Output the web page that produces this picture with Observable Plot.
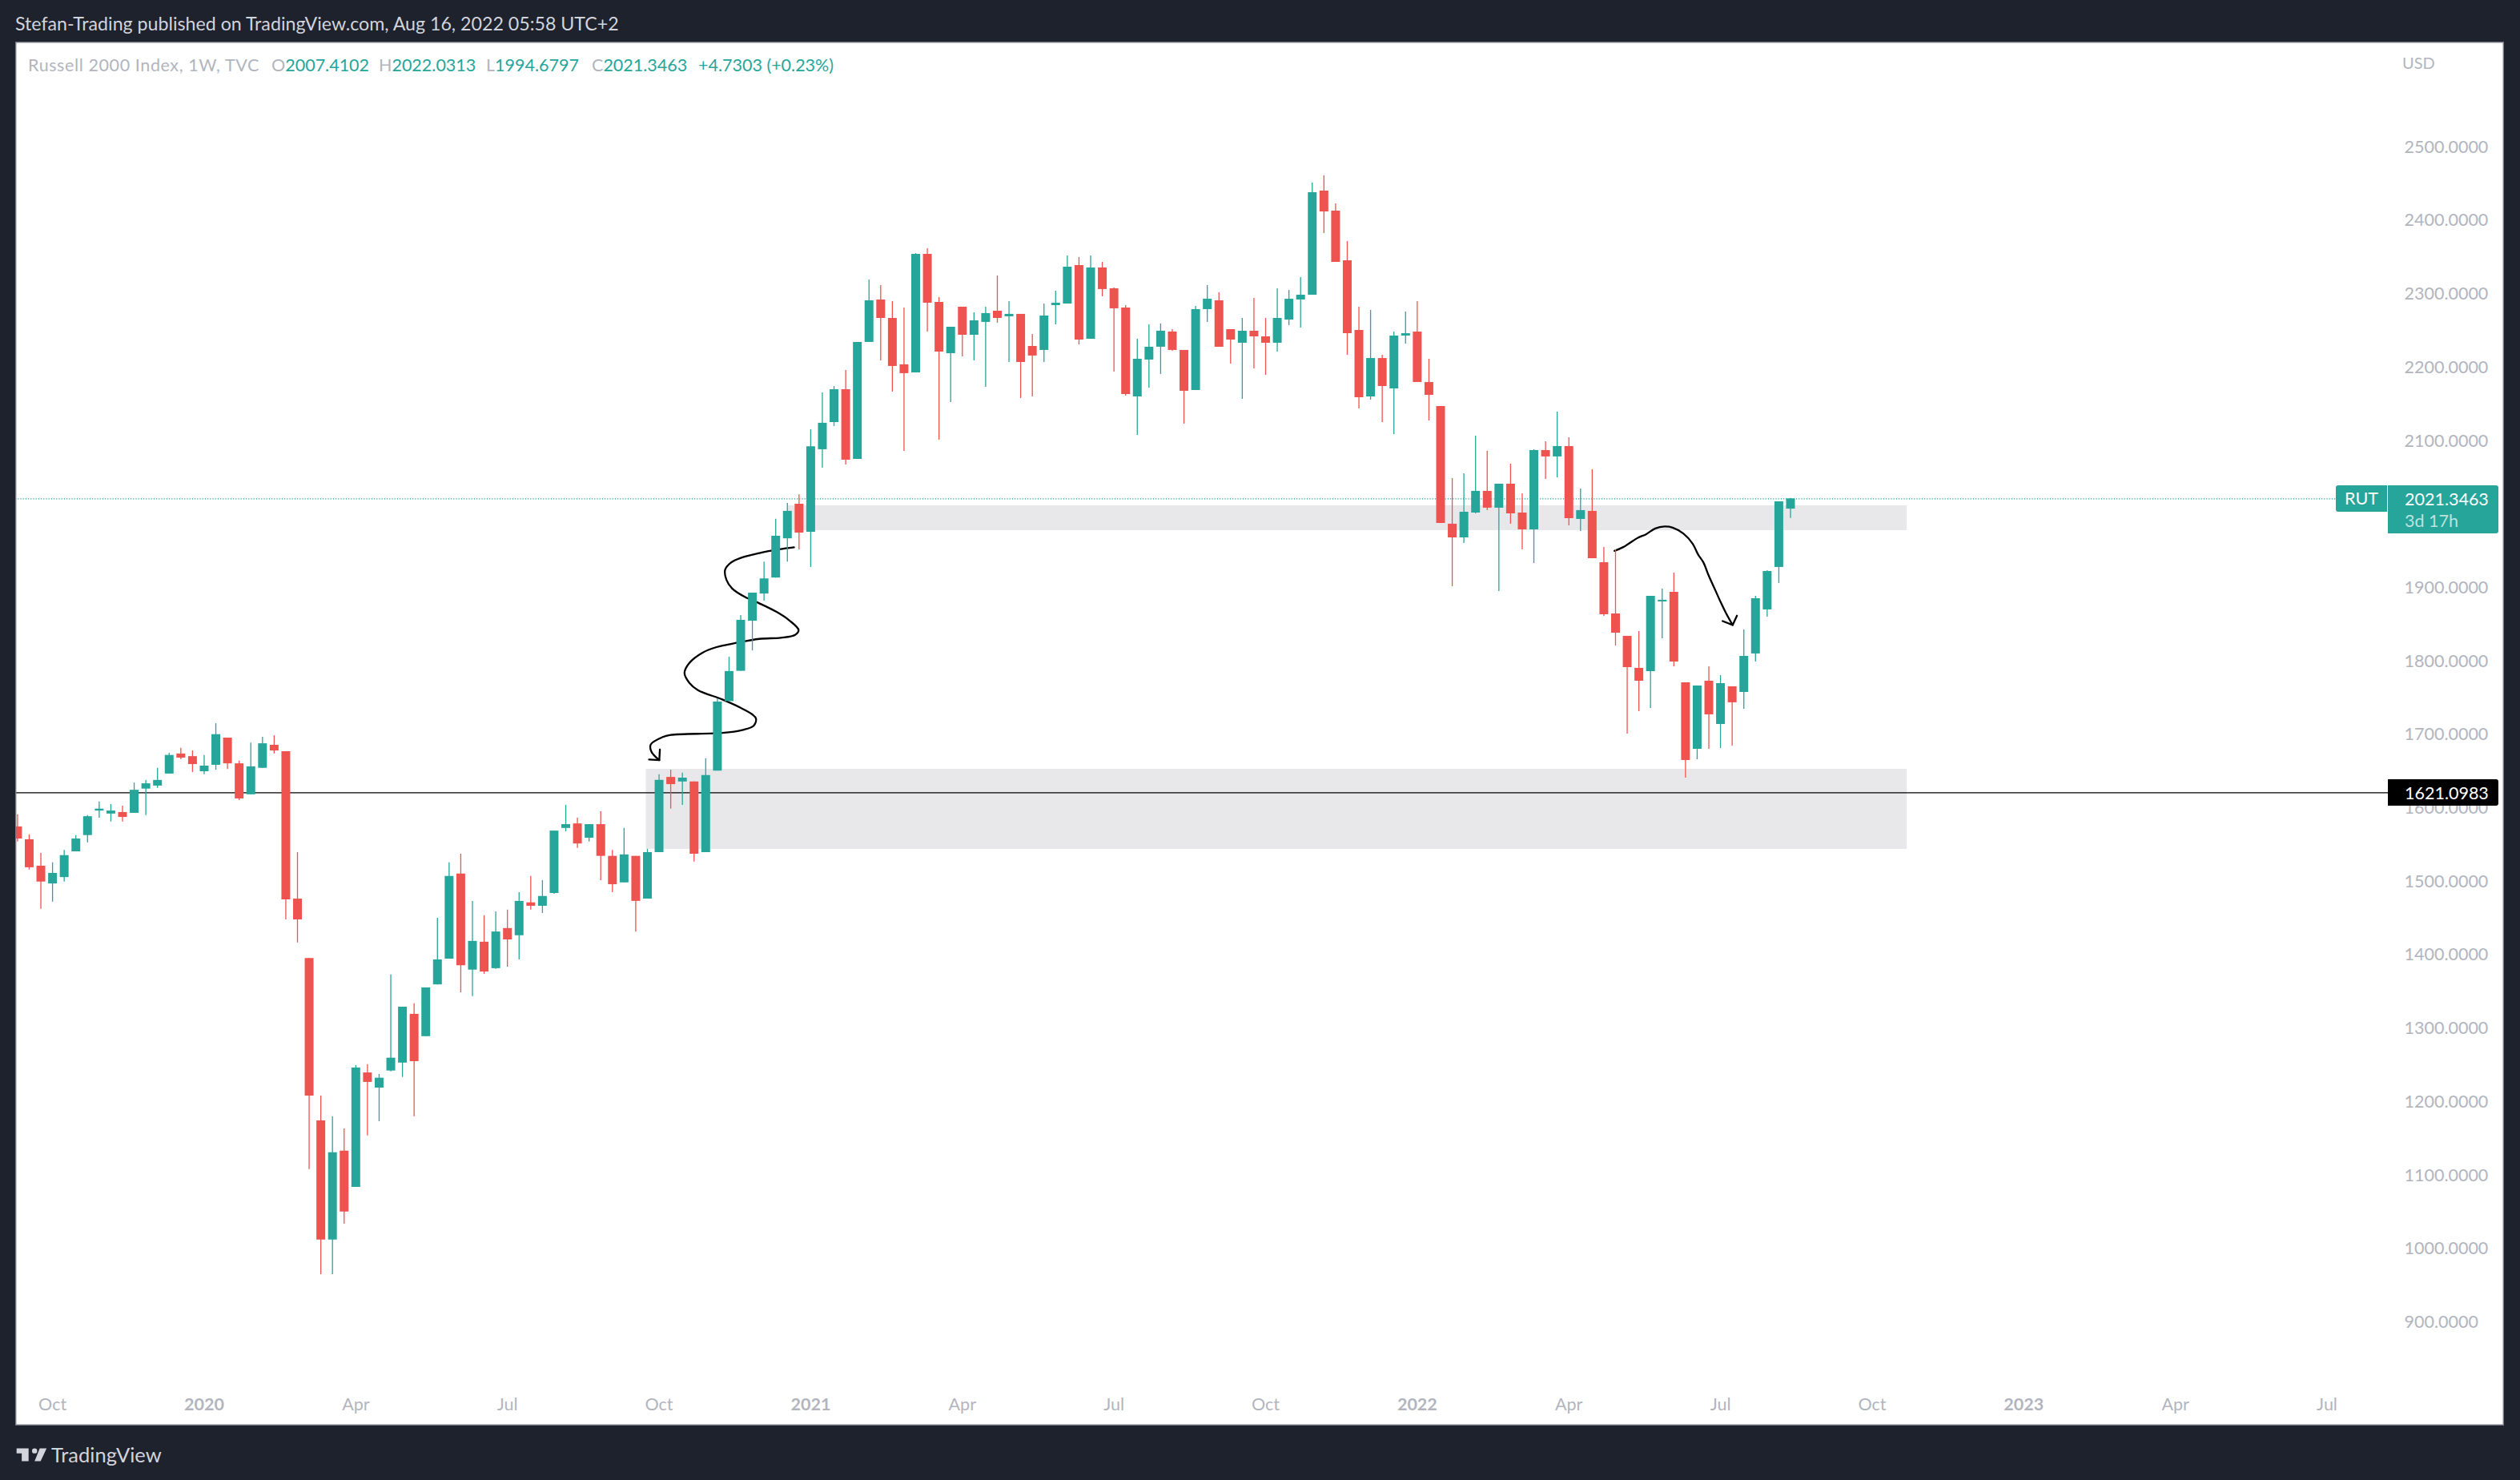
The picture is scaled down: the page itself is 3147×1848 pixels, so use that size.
<!DOCTYPE html>
<html>
<head>
<meta charset="utf-8">
<script src="https://cdn.jsdelivr.net/npm/d3@7"></script>
<script src="https://cdn.jsdelivr.net/npm/@observablehq/plot@0.6"></script>
<style>
html,body{margin:0;padding:0;background:#1e222d;width:3147px;height:1848px;overflow:hidden;font-family:Lato,sans-serif}
.abs{position:absolute;white-space:nowrap}
#head{left:19px;top:16px;font-size:23.2px;line-height:26px;color:#d1d4dc}
#chart{left:19px;top:52px;width:3108px;height:1728px;background:#fff}
#chart svg{display:block}
#frame{left:19px;top:52px;width:3108px;height:1728px;box-shadow:inset 0 0 0 1.4px #787b86;pointer-events:none}
#legend{left:35px;top:68px;font-size:21.5px;line-height:26px;color:#b2b5be;display:flex}
#legend b{font-weight:400;color:#26a69a}
#legend span{position:absolute;top:0}
#usd{left:3000px;top:65px;font-size:20px;line-height:26px;color:#b2b5be}
.box{font-size:21.5px;line-height:22px;font-variant-numeric:tabular-nums}
#foot{left:64px;top:1801px;font-size:25.5px;line-height:30px;color:#d1d4dc}
</style>
</head>
<body>
<div id="chart" class="abs"></div>
<div id="frame" class="abs"></div>
<div id="head" class="abs">Stefan-Trading published on TradingView.com, Aug 16, 2022 05:58 UTC+2</div>
<div id="legend" class="abs">
<span style="left:0;letter-spacing:.6px">Russell 2000 Index, 1W, TVC</span>
<span style="left:304px">O<b>2007.4102</b></span>
<span style="left:438px">H<b>2022.0313</b></span>
<span style="left:572px">L<b>1994.6797</b></span>
<span style="left:704px">C<b>2021.3463</b></span>
<span style="left:837px"><b>+4.7303 (+0.23%)</b></span>
</div>
<div id="usd" class="abs">USD</div>
<div class="abs box" style="left:2917px;top:606px;width:64px;height:33px;line-height:33px;background:#26a69a;color:#fff;text-align:center;border-radius:3px 0 0 3px">RUT</div>
<div class="abs box" style="left:2982px;top:606px;width:138px;height:60px;background:#26a69a;border-radius:0 3px 3px 0">
  <div style="position:absolute;left:21px;top:6px;color:#fff">2021.3463</div>
  <div style="position:absolute;left:21px;top:33px;color:rgba(255,255,255,.7)">3d 17h</div>
</div>
<div class="abs box" style="left:2982px;top:973px;width:138px;height:33px;background:#000;border-radius:0 3px 3px 0;color:#fff">
  <div style="position:absolute;left:21px;top:6px">1621.0983</div>
</div>
<svg class="abs" style="left:19px;top:1802px" width="42" height="30" viewBox="0 0 36 28"><path fill="#d1d4dc" d="M14 6H0v6h6v9h8V6zm14 15h-7l6-15h8l-7 15zm-7-9a3 3 0 1 0 0-6 3 3 0 0 0 0 6z"/></svg>
<div id="foot" class="abs">TradingView</div>
<script>
const WEEK = 7 * 864e5;
const firstWeek = Date.UTC(2019, 8, 16);
const open = [
1574.7,1557.2,1521.2,1497.0,1505.7,1540.7,1562.9,1596.3,1592.2,1594.3,
1593.2,1626.2,1630.3,1646.7,1674.0,1670.4,1649.8,1658.6,1695.6,1660.6,
1618.4,1654.5,1685.8,1677.1,1476.4,1395.6,1174.3,1012.2,1133.2,1083.8,
1239.7,1219.1,1242.3,1253.1,1319.5,1289.1,1359.6,1394.6,1510.4,1379.7,
1417.7,1381.7,1436.3,1426.5,1471.3,1466.6,1484.1,1572.6,1578.8,1559.3,
1577.8,1534.6,1498.5,1534.6,1476.4,1539.7,1642.1,1635.9,1635.9,1539.7,
1650.7,1745.3,1786.6,1854.8,1891.8,1913.6,1967.0,2014.1,1975.9,2088.3,
2125.3,2170.0,2075.2,2234.4,2292.2,2267.1,2203.9,2192.9,2354.3,2288.9,
2219.1,2282.4,2244.2,2261.7,2276.9,2269.3,2272.6,2228.9,2223.5,2284.6,
2286.7,2339.1,2238.8,2335.8,2307.5,2281.3,2160.2,2210.4,2227.9,2248.6,
2223.5,2169.0,2279.1,2291.1,2251.8,2233.3,2249.6,2242.0,2233.3,2264.9,
2292.2,2298.7,2440.5,2413.2,2345.6,2250.7,2160.2,2212.5,2171.1,2243.1,
2248.5,2179.8,2147.2,1986.9,1968.3,2002.1,2031.6,2008.7,2041.4,2002.1,
1979.2,2087.2,2078.5,2092.6,1993.4,2004.3,1934.5,1864.7,1834.2,1790.6,
1786.2,1881.1,1894.2,1770.9,1680.4,1773.1,1714.2,1765.5,1757.8,1810.2,
1870.2,1928.0,2007.41];
const high = [
1591.2,1563.9,1538.7,1525.8,1542.8,1562.9,1590.1,1608.7,1605.1,1603.0,
1634.4,1638.0,1654.5,1675.0,1681.7,1678.1,1672.0,1715.2,1695.6,1664.2,
1688.9,1696.7,1698.7,1677.1,1539.7,1395.6,1208.3,1180.0,1163.5,1249.5,
1251.0,1237.6,1373.0,1329.2,1333.9,1355.5,1450.2,1525.8,1537.6,1473.3,
1453.8,1458.9,1461.5,1485.2,1507.3,1501.6,1569.0,1604.0,1586.5,1577.8,
1595.3,1542.8,1572.6,1534.6,1544.3,1645.7,1651.9,1647.8,1635.9,1667.3,
1749.2,1805.7,1862.6,1893.0,1935.4,1993.5,2015.3,2027.0,2115.4,2165.7,
2174.4,2196.2,2234.4,2319.4,2311.8,2290.0,2281.3,2355.4,2362.0,2295.5,
2255.1,2282.4,2274.7,2282.4,2324.9,2290.0,2272.6,2245.3,2286.7,2304.2,
2352.2,2350.0,2352.2,2343.4,2308.6,2284.6,2238.8,2258.4,2259.5,2251.8,
2223.5,2283.5,2311.8,2302.0,2251.8,2267.1,2294.3,2267.1,2307.4,2305.2,
2322.7,2451.4,2461.2,2423.0,2371.8,2282.3,2278.0,2216.9,2248.5,2275.8,
2290.0,2211.5,2147.2,2049.0,2055.6,2106.8,2086.1,2041.4,2068.6,2028.3,
2088.3,2099.2,2139.5,2104.6,2034.8,2061.0,1955.2,1951.9,1834.2,1840.7,
1888.7,1898.5,1920.3,1770.9,1766.6,1792.7,1780.7,1765.5,1842.9,1888.7,
1923.6,2017.4,2022.03];
const low = [
1554.1,1516.0,1462.5,1472.3,1499.6,1540.7,1553.1,1586.5,1581.4,1581.4,
1593.2,1590.1,1627.2,1646.7,1666.3,1648.8,1645.7,1651.9,1652.9,1610.7,
1618.4,1654.5,1674.0,1448.1,1416.7,1108.0,964.9,964.9,1033.8,1083.8,
1153.8,1173.3,1241.2,1233.5,1180.0,1289.1,1359.6,1394.6,1348.8,1343.6,
1374.0,1380.7,1383.8,1393.6,1461.5,1456.9,1483.1,1568.0,1545.4,1554.1,
1501.6,1485.2,1498.5,1431.6,1476.4,1539.7,1598.9,1604.0,1526.8,1539.7,
1650.7,1745.3,1786.6,1814.3,1882.1,1913.6,1935.4,1951.8,1928.0,2063.2,
2119.9,2067.6,2075.2,2234.4,2209.3,2166.8,2086.1,2192.9,2248.6,2101.4,
2152.6,2214.8,2209.3,2173.3,2260.6,2207.1,2158.1,2160.2,2207.1,2258.4,
2286.7,2231.1,2238.8,2296.5,2194.0,2161.3,2107.9,2172.2,2190.8,2222.4,
2123.2,2169.0,2261.7,2227.8,2204.9,2156.9,2198.4,2189.6,2221.3,2257.3,
2254.0,2298.7,2382.7,2343.4,2216.9,2143.8,2155.8,2125.3,2108.9,2232.2,
2179.8,2127.5,1987.9,1901.8,1960.7,2001.0,2005.4,1895.3,1986.9,1952.0,
1933.4,2047.9,2050.1,1984.7,1977.0,1939.9,1861.4,1821.1,1701.2,1731.7,
1736.0,1830.9,1792.7,1641.2,1666.2,1680.4,1681.5,1684.8,1735.0,1799.3,
1860.4,1906.2,1994.68];
const close = [
1558.2,1519.1,1499.6,1511.4,1535.6,1558.2,1588.6,1598.9,1596.3,1587.6,
1624.6,1633.4,1638.0,1672.0,1668.4,1659.6,1657.5,1700.3,1660.6,1612.8,
1656.5,1687.9,1678.1,1475.4,1448.1,1208.3,1012.2,1131.1,1050.3,1246.4,
1226.8,1232.5,1259.8,1329.2,1255.1,1355.5,1393.6,1507.3,1385.8,1418.8,
1377.1,1431.6,1420.8,1473.3,1466.6,1480.0,1569.0,1577.8,1551.5,1577.8,
1534.6,1496.0,1536.6,1473.3,1539.7,1638.0,1632.3,1641.1,1537.6,1644.7,
1744.6,1786.3,1856.0,1893.0,1912.4,1970.5,2004.4,1974.8,2092.4,2124.3,
2170.0,2074.1,2234.4,2291.1,2267.1,2201.7,2191.9,2354.3,2287.8,2221.3,
2255.1,2244.2,2263.8,2273.7,2267.1,2272.6,2207.1,2215.9,2270.4,2287.8,
2336.9,2237.7,2335.8,2306.4,2280.2,2163.5,2211.5,2227.9,2249.7,2223.5,
2167.9,2279.1,2293.3,2227.8,2237.6,2249.6,2242.0,2233.3,2267.1,2293.2,
2298.7,2438.3,2412.1,2343.4,2246.4,2159.1,2212.5,2174.4,2243.1,2246.3,
2179.8,2162.4,1987.9,1968.3,2003.2,2031.6,2008.7,2041.4,2001.0,1979.2,
2087.2,2078.5,2092.6,1994.5,2005.4,1939.9,1863.6,1838.5,1791.6,1773.1,
1888.7,1883.3,1799.3,1665.2,1766.6,1727.3,1769.8,1743.7,1806.9,1885.4,
1922.5,2017.4,2021.35];

const priceTicks = [900,1000,1100,1200,1300,1400,1500,1600,1700,1800,1900,2100,2200,2300,2400,2500];
const monthTicks = [[2019,9,7,"Oct"],[2020,3,6,"Apr"],[2020,6,6,"Jul"],[2020,9,5,"Oct"],[2021,3,5,"Apr"],[2021,6,5,"Jul"],[2021,9,4,"Oct"],[2022,3,4,"Apr"],[2022,6,4,"Jul"],[2022,9,3,"Oct"],[2023,3,3,"Apr"],[2023,6,3,"Jul"]];
const yearTicks = [[2020,0,6,"2020"],[2021,0,4,"2021"],[2022,0,3,"2022"],[2023,0,2,"2023"]];

const lastPrice = 2021.3463;
const markerPrice = 1621.0983;
// zones: week number from first candle, and price
const zones = [
  {from: 66.0, to: 162, top: 2011.9, bottom: 1978.1},
  {from: 53.9, to: 162, top: 1653.2, bottom: 1544.2}
];
// hand drawn arrows: [week number, price]
const squiggle = [[66.57,1955.3],[65.32,1952.6],[63.60,1947.5],[62.01,1940.9],[61.15,1934.3],[60.66,1924.5],[60.78,1910.9],[61.27,1899.2],[62.38,1887.5],[63.60,1879.0],[65.08,1867.3],[66.18,1855.6],[66.96,1842.7],[66.67,1836.1],[65.44,1832.2],[63.60,1830.6],[61.64,1825.2],[59.93,1819.4],[58.70,1811.6],[57.60,1797.9],[57.18,1784.3],[57.60,1770.7],[58.33,1760.9],[60.42,1748.1],[61.89,1737.6],[62.99,1727.8],[63.31,1722.0],[63.11,1712.2],[62.13,1706.4],[60.42,1702.5],[56.00,1699.8],[55.27,1696.7],[54.29,1686.9],[54.34,1677.2],[55.02,1665.5]];
const squiggleHead = [[54.14,1666.3],[55.02,1665.5],[55.07,1679.9]];
const hump = [[136.91,1950.5],[137.66,1955.6],[138.92,1968.3],[139.61,1973.0],[140.41,1981.0],[141.21,1983.6],[141.90,1982.1],[142.81,1974.1],[143.61,1960.3],[144.07,1945.8],[144.53,1934.9],[144.99,1916.7],[145.56,1896.7],[146.02,1880.4],[146.47,1865.8],[147.04,1849.5]];
const humpHead = [[146.18,1854.9],[147.04,1849.5],[147.41,1862.2]];

const UP = "#26a69a", DOWN = "#ef5350", GREY = "#b2b5be";
const wk = w => new Date(firstWeek + w * WEEK);
const candles = open.map((o, i) => ({date: wk(i), open: o, high: high[i], low: low[i], close: close[i], fill: close[i] >= o ? UP : DOWN}));
const tickDate = t => new Date(Date.UTC(t[0], t[1], t[2]));
const monthLabel = new Map(monthTicks.map(t => [+tickDate(t), t[3]]));
const yearLabel = new Map(yearTicks.map(t => [+tickDate(t), t[3]]));
const curve = pts => pts.map(([w, p]) => ({date: wk(w), price: p}));
const inkOpts = {x: "date", y: "price", stroke: "#000", strokeWidth: 2.3, curve: "catmull-rom", strokeLinejoin: "round", strokeLinecap: "round", clip: "frame"};

const plot = Plot.plot({
  width: 3108, height: 1728,
  marginLeft: 0, marginRight: 145, marginTop: 0, marginBottom: 52,
  style: {background: "#fff", fontFamily: "Lato, sans-serif", maxWidth: "none", overflow: "visible"},
  x: {type: "utc", domain: [wk(-0.1648), wk(203.25)], label: null},
  y: {type: "linear", domain: [815.6, 2643.3], label: null},
  marks: [
    Plot.rect(zones, {x1: d => wk(d.from), x2: d => wk(d.to), y1: "bottom", y2: "top", fill: "#e8e8ea"}),
    Plot.ruleY([lastPrice], {stroke: UP, strokeWidth: 1.2, strokeDasharray: "1.2,2"}),
    Plot.ruleY([markerPrice], {stroke: "#000", strokeWidth: 1.3}),
    Plot.line(curve(squiggle), inkOpts),
    Plot.line(curve(squiggleHead), {...inkOpts, curve: "linear"}),
    Plot.line(curve(hump), inkOpts),
    Plot.line(curve(humpHead), {...inkOpts, curve: "linear"}),
    Plot.ruleX(candles, {x: "date", y1: "low", y2: "high", stroke: "fill", strokeWidth: 1.3, clip: "frame"}),
    Plot.ruleX(candles, {x: "date", y1: "open", y2: "close", stroke: "fill", strokeWidth: 11, clip: "frame"}),
    Plot.axisY(priceTicks, {anchor: "right", tickSize: 0, tickPadding: 20, tickFormat: d3.format(".4f"), fontSize: 21.5, fill: GREY, label: null}),
    Plot.axisX([...monthLabel.keys()].map(d => new Date(d)), {anchor: "bottom", tickSize: 0, tickPadding: 17, tickFormat: d => monthLabel.get(+d), fontSize: 21.5, fill: GREY, label: null}),
    Plot.axisX([...yearLabel.keys()].map(d => new Date(d)), {anchor: "bottom", tickSize: 0, tickPadding: 17, tickFormat: d => yearLabel.get(+d), fontSize: 21.5, fontWeight: 700, fill: GREY, label: null})
  ]
});
document.getElementById("chart").appendChild(plot);
</script>
</body>
</html>
